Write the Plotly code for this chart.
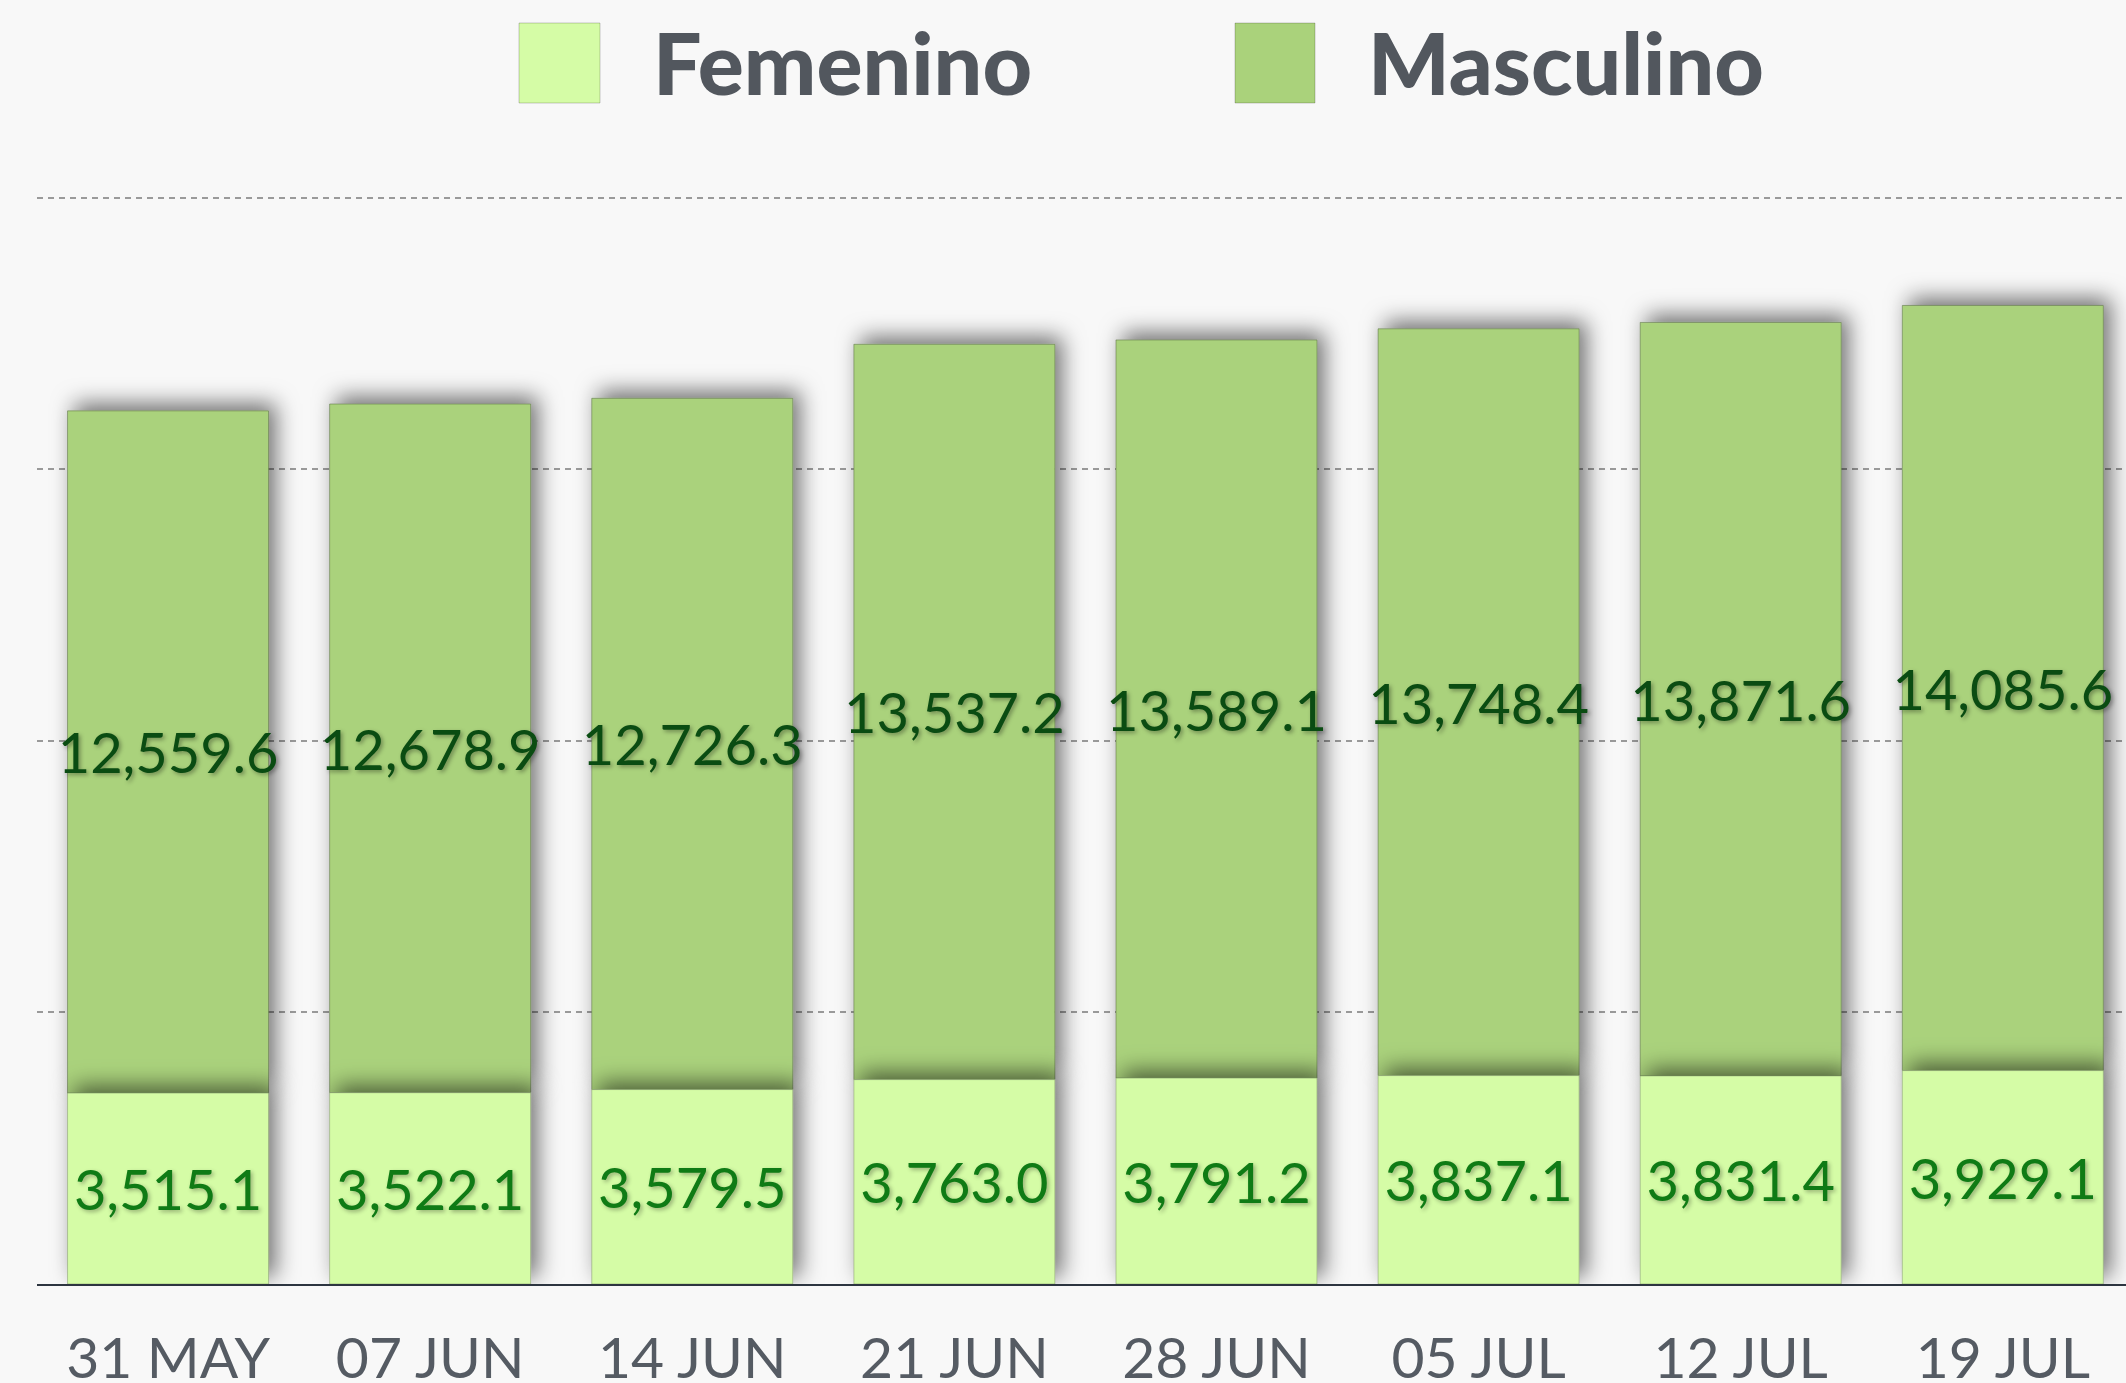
import plotly.graph_objects as go

categories = ["31 MAY", "07 JUN", "14 JUN", "21 JUN", "28 JUN", "05 JUL", "12 JUL", "19 JUL"]
femenino = [3515.1, 3522.1, 3579.5, 3763.0, 3791.2, 3837.1, 3831.4, 3929.1]
masculino = [12559.6, 12678.9, 12726.3, 13537.2, 13589.1, 13748.4, 13871.6, 14085.6]
series_names = ["Femenino", "Masculino"]

W, H = 2126, 1383
ML, MR, MT, MB = 37, 0, 89, 99
PW, PH = W - ML - MR, H - MT - MB

FEM_COLOR = "#d5fca6"
MAS_COLOR = "#aad27b"
FONT = "Lato, 'Open Sans', sans-serif"


def px_x(px):
    return (px - ML) / PW


def px_y(py):
    return (H - MB - py) / PH


fig = go.Figure()

fig.add_trace(go.Bar(
    x=categories, y=masculino, base=femenino, name=series_names[1],
    marker=dict(color=MAS_COLOR, line=dict(color="rgba(90,110,70,0.55)", width=1)),
    texttemplate="%{y:,.1f}", textposition="inside", insidetextanchor="middle",
    textangle=0, constraintext="none",
    textfont=dict(family=FONT, size=56, color="#0a4c12",
                  shadow="2px 2px 4px rgba(0,0,0,0.35)"),
    showlegend=False, hoverinfo="skip",
))
fig.add_trace(go.Bar(
    x=categories, y=femenino, name=series_names[0],
    marker=dict(color=FEM_COLOR, line=dict(color="rgba(110,130,90,0.45)", width=1)),
    texttemplate="%{y:,.1f}", textposition="inside", insidetextanchor="middle",
    textangle=0, constraintext="none",
    textfont=dict(family=FONT, size=56, color="#0f7b15",
                  shadow="2px 2px 4px rgba(0,0,0,0.3)"),
    showlegend=False, hoverinfo="skip",
))

# Legend drawn manually (large swatches)
legend_items = [
    (series_names[0], FEM_COLOR, 519, 600, 651),
    (series_names[1], MAS_COLOR, 1235, 1315, 1366),
]
shapes = []
annotations = []
for name, col, bx0, bx1, tx in legend_items:
    shapes.append(dict(type="rect", xref="paper", yref="paper",
                       x0=px_x(bx0), x1=px_x(bx1), y0=px_y(103), y1=px_y(23),
                       fillcolor=col, line=dict(color="rgba(0,0,0,0.2)", width=1)))
    annotations.append(dict(text=name, xref="paper", yref="paper",
                            x=px_x(tx), y=px_y(61), xanchor="left", yanchor="middle",
                            showarrow=False,
                            font=dict(family=FONT, size=86, color="#52575e", weight=900)))

fig.update_layout(
    width=W, height=H,
    margin=dict(l=ML, r=MR, t=MT, b=MB, pad=0, autoexpand=False),
    paper_bgcolor="#f8f8f8", plot_bgcolor="#f8f8f8",
    barmode="overlay", bargap=0.233,
    showlegend=False,
    shapes=shapes, annotations=annotations,
    xaxis=dict(range=[-0.5, 7.47], showgrid=False, showline=True,
               linecolor="#2d3540", linewidth=2, ticks="",
               tickfont=dict(family=FONT, size=57, color="#555b63"),
               ticklabelstandoff=24, fixedrange=True, automargin=False),
    yaxis=dict(range=[0, 22000], dtick=5000, showticklabels=False,
               showgrid=True, gridcolor="#9a9a9a", gridwidth=2, griddash="6px,5px",
               zeroline=False, showline=False, fixedrange=True, automargin=False),
)

post_js = """
document.documentElement.style.margin='0';
document.body.style.margin='0';
document.body.style.padding='0';
document.body.style.background='#f8f8f8';
var gd = document.getElementById('{plot_id}');
function addShadow(){
  var svg = gd.querySelector('svg.main-svg');
  if(!svg) return;
  var ns = 'http://www.w3.org/2000/svg';
  var defs = svg.querySelector('defs');
  if(!defs){ defs = document.createElementNS(ns,'defs'); svg.insertBefore(defs, svg.firstChild); }
  if(!svg.querySelector('#barshadow')){
    var f = document.createElementNS(ns,'filter');
    f.setAttribute('id','barshadow');
    f.setAttribute('x','-50%'); f.setAttribute('y','-50%');
    f.setAttribute('width','200%'); f.setAttribute('height','200%');
    var ds = document.createElementNS(ns,'feDropShadow');
    ds.setAttribute('dx','7'); ds.setAttribute('dy','-7');
    ds.setAttribute('stdDeviation','11');
    ds.setAttribute('flood-color','#000'); ds.setAttribute('flood-opacity','0.55');
    f.appendChild(ds); defs.appendChild(f);
  }
  gd.querySelectorAll('.barlayer .point path').forEach(function(p){
    p.setAttribute('filter','url(#barshadow)');
  });
}
addShadow();
"""

fig.write_html("out.html", post_script=post_js, config={"displayModeBar": False})
